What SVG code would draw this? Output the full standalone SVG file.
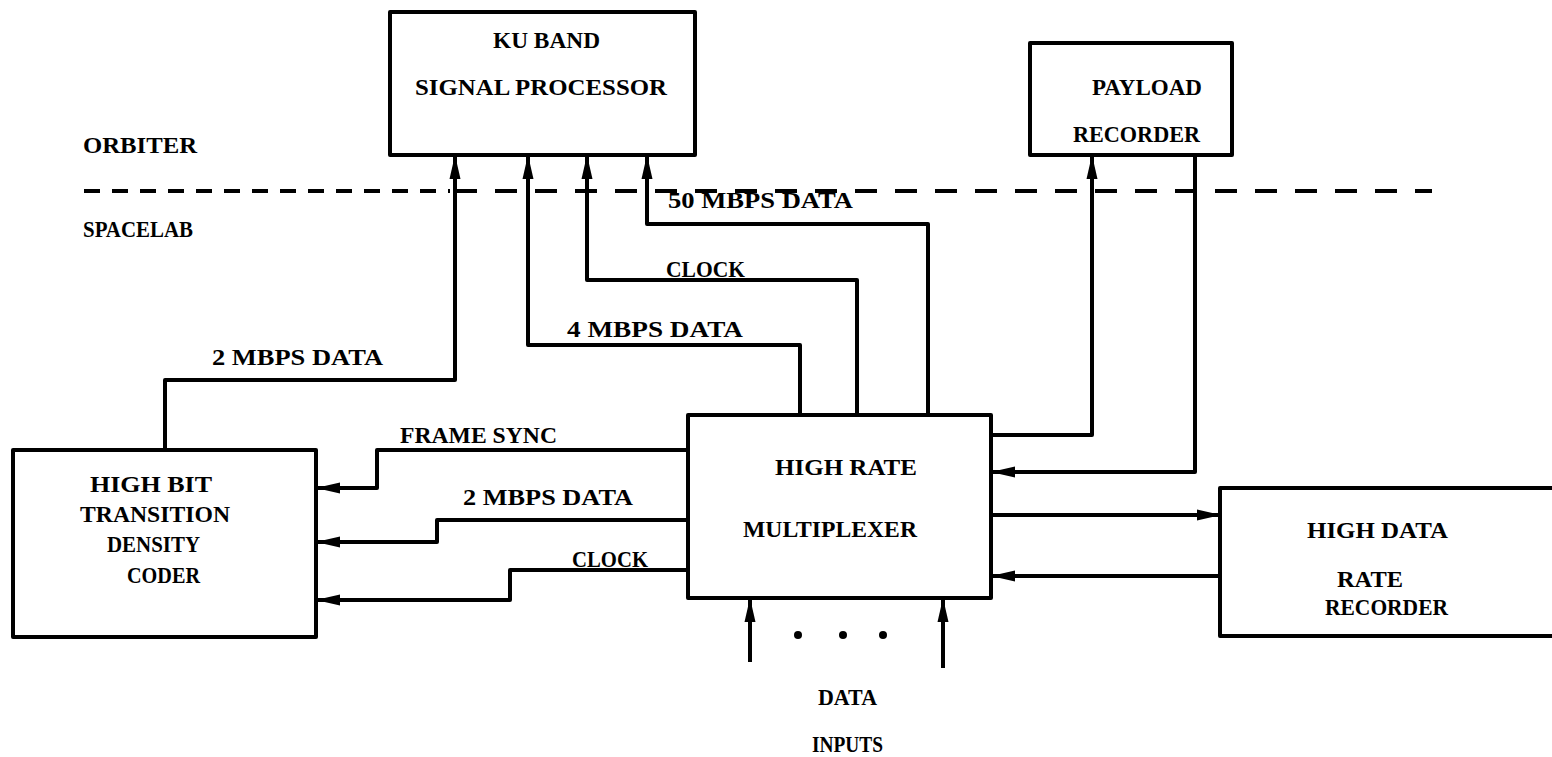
<svg xmlns="http://www.w3.org/2000/svg" width="1552" height="757" viewBox="0 0 1552 757">
<style>
.box{fill:#fff;stroke:#000;stroke-width:4;stroke-linejoin:round}
.ln{fill:none;stroke:#000;stroke-width:4;stroke-linejoin:round}
.arr{marker-end:url(#ah)}
.dash{fill:none;stroke:#000;stroke-width:4}
text{font-family:"Liberation Serif","DejaVu Serif",serif;font-weight:bold;font-size:23px;fill:#000}
</style>
<defs>
<marker id="ah" viewBox="0 0 24 13" refX="23" refY="6.5" markerWidth="24" markerHeight="13" markerUnits="userSpaceOnUse" orient="auto">
<path d="M0,1 L24,6.5 L0,12 Z" fill="#000"/>
</marker>
</defs>
<rect width="1552" height="757" fill="#fff"/>
<g id="boundary">
<path class="dash" d="M84,191 H450" stroke-dasharray="16 12"/>
<path class="dash" d="M455,191 H1432" stroke-dasharray="22 18"/>
<text x="83" y="153" textLength="114" lengthAdjust="spacingAndGlyphs">ORBITER</text>
<text x="83" y="237" textLength="110" lengthAdjust="spacingAndGlyphs">SPACELAB</text>
</g>
<g id="connectors">
<path class="ln arr" d="M165,450 V380 H455 V156"/>
<path class="ln arr" d="M800,415 V345 H528 V156"/>
<path class="ln arr" d="M857,415 V280 H587 V156"/>
<path class="ln arr" d="M928,415 V224 H647 V156"/>
<path class="ln arr" d="M990,435 H1092 V156"/>
<path class="ln arr" d="M1195,155 V472 H992"/>
<path class="ln arr" d="M990,515 H1220"/>
<path class="ln arr" d="M1220,576 H992"/>
<path class="ln arr" d="M688,450 H377 V488 H317"/>
<path class="ln arr" d="M688,520 H437 V542 H317"/>
<path class="ln arr" d="M688,570 H510 V600 H317"/>
<path class="ln arr" d="M750,662 V599"/>
<path class="ln arr" d="M943,668 V599"/>
<text x="212" y="365" textLength="171" lengthAdjust="spacingAndGlyphs">2 MBPS DATA</text>
<text x="567" y="337" textLength="176" lengthAdjust="spacingAndGlyphs">4 MBPS DATA</text>
<text x="666" y="277" textLength="79" lengthAdjust="spacingAndGlyphs">CLOCK</text>
<text x="668" y="208" textLength="185" lengthAdjust="spacingAndGlyphs">50 MBPS DATA</text>
<text x="400" y="443" textLength="157" lengthAdjust="spacingAndGlyphs">FRAME SYNC</text>
<text x="463" y="505" textLength="170" lengthAdjust="spacingAndGlyphs">2 MBPS DATA</text>
<text x="572" y="567" textLength="76" lengthAdjust="spacingAndGlyphs">CLOCK</text>
</g>
<g id="ku-band">
<rect class="box" x="390" y="12" width="305" height="143"/>
<text x="493" y="48" textLength="107" lengthAdjust="spacingAndGlyphs">KU BAND</text>
<text x="415" y="95" textLength="252" lengthAdjust="spacingAndGlyphs">SIGNAL PROCESSOR</text>
</g>
<g id="payload-recorder">
<rect class="box" x="1030" y="43" width="202" height="112"/>
<text x="1092" y="95" textLength="110" lengthAdjust="spacingAndGlyphs">PAYLOAD</text>
<text x="1073" y="142" textLength="127" lengthAdjust="spacingAndGlyphs">RECORDER</text>
</g>
<g id="coder">
<rect class="box" x="13" y="450" width="303" height="187"/>
<text x="90" y="492" textLength="122" lengthAdjust="spacingAndGlyphs">HIGH BIT</text>
<text x="80" y="522" textLength="150" lengthAdjust="spacingAndGlyphs">TRANSITION</text>
<text x="107" y="552" textLength="93" lengthAdjust="spacingAndGlyphs">DENSITY</text>
<text x="127" y="583" textLength="73" lengthAdjust="spacingAndGlyphs">CODER</text>
</g>
<g id="multiplexer">
<rect class="box" x="688" y="415" width="303" height="183"/>
<text x="775" y="475" textLength="142" lengthAdjust="spacingAndGlyphs">HIGH RATE</text>
<text x="743" y="537" textLength="174" lengthAdjust="spacingAndGlyphs">MULTIPLEXER</text>
</g>
<g id="hdr-recorder">
<rect class="box" x="1220" y="488" width="345" height="148"/>
<text x="1307" y="538" textLength="141" lengthAdjust="spacingAndGlyphs">HIGH DATA</text>
<text x="1337" y="587" textLength="66" lengthAdjust="spacingAndGlyphs">RATE</text>
<text x="1325" y="615" textLength="123" lengthAdjust="spacingAndGlyphs">RECORDER</text>
</g>
<g id="data-inputs">
<circle cx="798" cy="635" r="4"/>
<circle cx="843" cy="635" r="4"/>
<circle cx="883" cy="635" r="4"/>
<text x="818" y="705" textLength="59" lengthAdjust="spacingAndGlyphs">DATA</text>
<text x="812" y="752" textLength="71" lengthAdjust="spacingAndGlyphs">INPUTS</text>
</g>
</svg>
